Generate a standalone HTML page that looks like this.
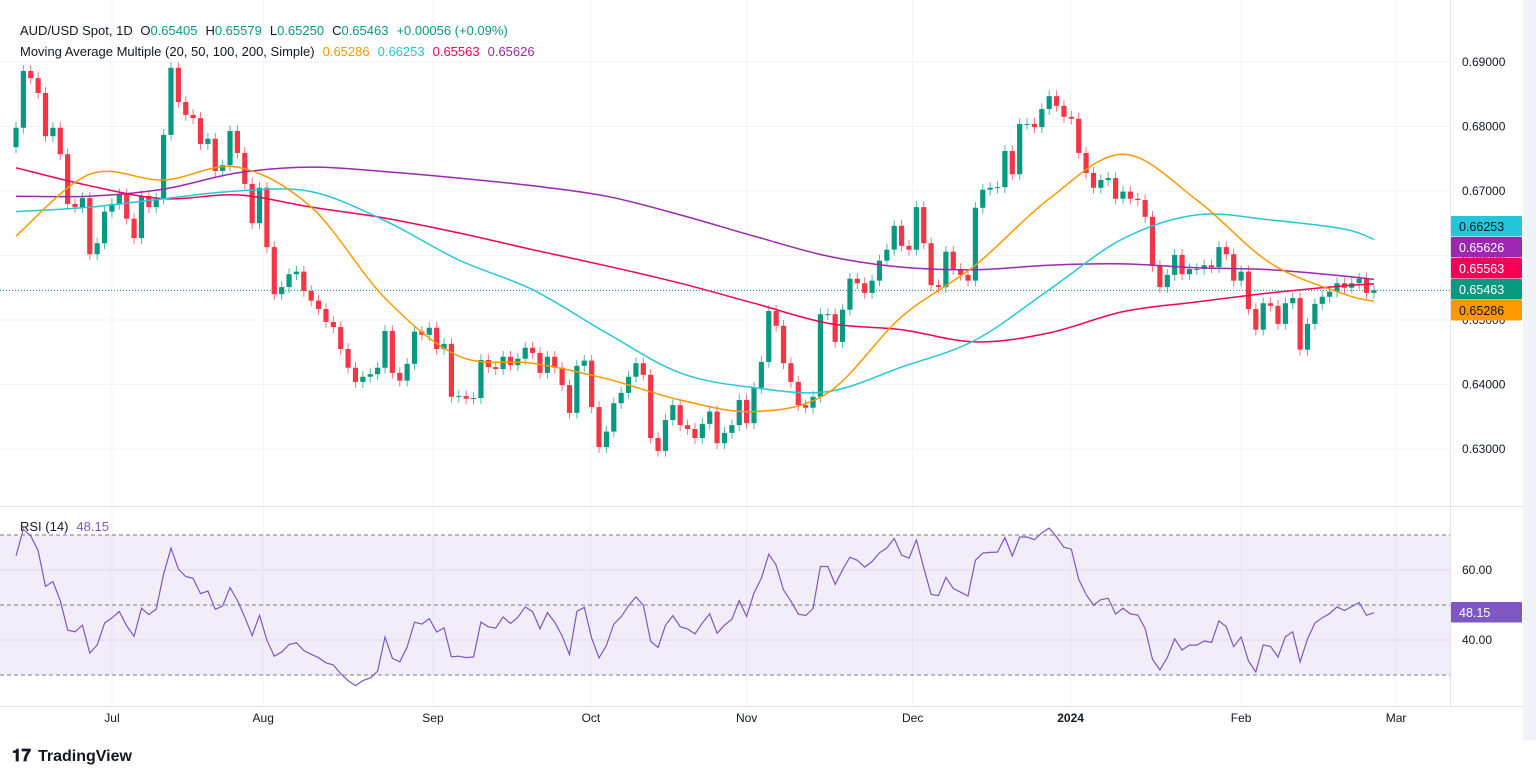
<!DOCTYPE html>
<html><head><meta charset="utf-8">
<style>
html,body{margin:0;padding:0;background:#fff;}
svg{display:block;font-family:"Liberation Sans",sans-serif;}
</style></head>
<body>
<svg id="chart" width="1536" height="776" viewBox="0 0 1536 776" xmlns="http://www.w3.org/2000/svg">
<rect x="0" y="0" width="1536" height="776" fill="#ffffff"/>
<rect x="1523" y="0" width="13" height="740" fill="#f0f3fa"/>
<g id="grid"></g>
<rect x="0" y="535" width="1450" height="140" fill="#7e57c2" fill-opacity="0.1"/>
<g id="rsiLines"></g>
<g id="candles"></g>
<g id="mas"></g>
<g id="rsi"></g>
<line x1="0" y1="506.5" x2="1523" y2="506.5" stroke="#e0e3eb"/>
<line x1="1450.5" y1="0" x2="1450.5" y2="706" stroke="#e0e3eb"/>
<line x1="0" y1="706.5" x2="1523" y2="706.5" stroke="#e0e3eb"/>
<g id="yticks" font-size="12" fill="#131722"></g>
<g id="xticks" font-size="12" fill="#131722"></g>
<g id="tags" font-size="12.5"></g>
<text x="20" y="35" font-size="13" fill="#131722">AUD/USD Spot, 1D <tspan dx="4">O</tspan><tspan fill="#089981">0.65405</tspan><tspan dx="8">H</tspan><tspan fill="#089981">0.65579</tspan><tspan dx="8">L</tspan><tspan fill="#089981">0.65250</tspan><tspan dx="8">C</tspan><tspan fill="#089981">0.65463</tspan><tspan dx="8" fill="#089981">+0.00056 (+0.09%)</tspan></text>
<text x="20" y="56" font-size="13" fill="#131722">Moving Average Multiple (20, 50, 100, 200, Simple)<tspan dx="8" fill="#ff9800">0.65286</tspan><tspan dx="8" fill="#26c6da">0.66253</tspan><tspan dx="8" fill="#f50057">0.65563</tspan><tspan dx="8" fill="#9c27b0">0.65626</tspan></text>
<text x="20" y="531" font-size="13" fill="#131722">RSI (14)<tspan dx="8" fill="#7e57c2">48.15</tspan></text>
<g>
<text x="12" y="761" font-size="17" font-weight="bold" fill="#131722">𝟏𝟕</text>
<text x="38" y="761" font-size="16" font-weight="bold" fill="#131722">TradingView</text>
</g>
</svg>
<script>
const closes=[0.6798,0.6886,0.6875,0.6852,0.6785,0.6798,0.6757,0.6680,0.6675,0.6689,0.6602,0.6619,0.6668,0.6680,0.6695,0.6657,0.6627,0.6692,0.6675,0.6688,
0.6787,0.6891,0.6838,0.6818,0.6813,0.6773,0.6781,0.6731,0.6740,0.6793,0.6759,0.6711,0.6650,0.6705,0.6613,
0.6540,0.6551,0.6571,0.6575,0.6545,0.6530,0.6517,0.6497,0.6489,0.6455,0.6426,0.6404,0.6412,0.6416,0.6426,0.6483,0.6418,0.6406,0.6432,0.6482,0.6477,0.6488,0.6455,0.6463,0.6381,0.6382,0.6378,0.6379,0.6438,0.6427,0.6424,0.6443,
0.6430,0.6440,0.6457,0.6449,0.6418,0.6443,0.6426,0.6399,0.6356,0.6429,0.6437,0.6365,0.6303,0.6327,0.6371,0.6387,0.6412,0.6433,0.6415,0.6317,0.6297,0.6345,0.6368,0.6337,0.6331,0.6317,0.6339,0.6358,0.6309,0.6325,0.6337,0.6376,0.6340,
0.6395,0.6435,0.6514,0.6491,0.6433,0.6404,0.6368,0.6364,0.6381,0.6509,0.6509,0.6466,0.6516,0.6564,0.6557,0.6542,0.6561,0.6592,0.6609,0.6646,0.6615,0.6609,0.6675,0.6619,0.6554,0.6551,0.6606,0.6579,0.6570,0.6561,
0.6674,0.6702,0.6705,0.6706,0.6762,0.6726,0.6804,0.6804,0.6799,0.6827,0.6847,0.6832,0.6815,0.6812,0.6759,0.6728,0.6705,0.6717,0.6720,0.6688,0.6699,0.6688,0.6686,0.6660,0.6584,0.6551,0.6570,0.6601,0.6571,0.6579,0.6579,0.6585,0.6582,
0.6613,0.6602,0.6561,0.6575,0.6517,0.6485,0.6526,0.6522,0.6494,0.6526,0.6534,0.6454,0.6494,0.6525,0.6536,0.6544,0.6557,0.6550,0.6557,0.6564,0.6542,0.6546];
const firstOpen=0.6768;
const maIdx=[0,10,20,30,40,50,60,70,80,90,100,110,120,130,140,150,160,170,180,184];
const ma20=[0.6630,0.6726,0.6717,0.6737,0.6675,0.6534,0.6444,0.6433,0.6409,0.6376,0.6358,0.6387,0.6505,0.6585,0.6688,0.6757,0.6686,0.6588,0.6540,0.6529];
const ma50=[0.6668,0.6675,0.6688,0.6700,0.6699,0.6654,0.6593,0.6547,0.6480,0.6418,0.6395,0.6389,0.6427,0.6469,0.6547,0.6626,0.6663,0.6655,0.6641,0.6625];
const ma100=[0.6736,0.6708,0.6688,0.6694,0.6675,0.6658,0.6635,0.6609,0.6584,0.6557,0.6526,0.6495,0.6485,0.6466,0.6480,0.6513,0.6528,0.6542,0.6553,0.6556];
const ma200=[0.6692,0.6692,0.6703,0.6728,0.6737,0.6730,0.6720,0.6708,0.6692,0.6663,0.6630,0.6599,0.6582,0.6578,0.6585,0.6587,0.6581,0.6578,0.6568,0.6563];
const priceTicks=[0.69,0.68,0.67,0.66,0.65,0.64,0.63];
const rsiTicks=[60,40];
const monthLabels=["Jul","Aug","Sep","Oct","Nov","Dec","2024","Feb","Mar"];
const monthBars=[13.0,33.5,56.5,77.9,99.0,121.5,142.9,166.0,187.0];
const rsiSeed=[0.0016,0.0009];

const NS="http://www.w3.org/2000/svg";
const X=i=>16+i*7.38;
const Y=p=>62+(0.69-p)*6450;
const RY=r=>605-(r-50)*3.5;
function mk(tag,attrs,parent){const e=document.createElementNS(NS,tag);for(const k in attrs)e.setAttribute(k,attrs[k]);parent.appendChild(e);return e;}
const grid=document.getElementById('grid');
priceTicks.forEach(p=>{const l=mk('line',{x1:0,x2:1450,y1:Y(p),y2:Y(p),stroke:'#f0f3fa'},grid);

});
rsiTicks.forEach(r=>{const l=mk('line',{x1:0,x2:1450,y1:RY(r),y2:RY(r),stroke:'#ebe6f5'},grid);

});
monthBars.forEach(b=>{const l=mk('line',{x1:X(b),x2:X(b),y1:0,y2:706,stroke:'#f0f3fa'},grid);

});
const rl=document.getElementById('rsiLines');
[70,50,30].forEach(r=>{const l=mk('line',{x1:0,x2:1450,y1:RY(r),y2:RY(r),stroke:'#787b86','stroke-dasharray':'4 3','stroke-width':1},rl);

});
const pl=mk('line',{x1:0,x2:1450,y1:Y(closes[closes.length-1]),y2:Y(closes[closes.length-1]),stroke:'#089981','stroke-dasharray':'1 2'},grid);


const cg=document.getElementById('candles');
closes.forEach((c,i)=>{
 const o=i===0?firstOpen:closes[i-1];
 const up=c>=o;const col=up?'#089981':'#f23645';
 const hi=Math.max(o,c)+0.0009, lo=Math.min(o,c)-0.0009;
 const x=X(i);
 const w=mk('line',{x1:x,x2:x,y1:Y(hi),y2:Y(lo),stroke:col,'stroke-width':1,'stroke-opacity':0.7},cg);
 
 
 const t=Y(Math.max(o,c)),b=Y(Math.min(o,c));
 const r=mk('rect',{x:x-2.6,y:t,width:5.2,height:Math.max(1,b-t),fill:col},cg);
 
 
});
function smoothPath(pts){
 let d='M'+pts[0][0].toFixed(1)+','+pts[0][1].toFixed(1);
 for(let i=0;i<pts.length-1;i++){
  const p0=pts[i-1]||pts[i],p1=pts[i],p2=pts[i+1],p3=pts[i+2]||p2;
  const c1=[p1[0]+(p2[0]-p0[0])/6,p1[1]+(p2[1]-p0[1])/6];
  const c2=[p2[0]-(p3[0]-p1[0])/6,p2[1]-(p3[1]-p1[1])/6];
  d+=' C'+c1[0].toFixed(1)+','+c1[1].toFixed(1)+' '+c2[0].toFixed(1)+','+c2[1].toFixed(1)+' '+p2[0].toFixed(1)+','+p2[1].toFixed(1);
 }
 return d;
}
const mg=document.getElementById('mas');
[[ma200,'#9c27b0','ma-200'],[ma100,'#f50057','ma-100'],[ma50,'#26c6da','ma-50'],[ma20,'#ff9800','ma-20']].forEach(([arr,col,nm])=>{
 const pts=arr.map((v,k)=>[X(maIdx[k]),Y(v)]);
 const p=mk('path',{d:smoothPath(pts),fill:'none',stroke:col,'stroke-width':1.5,'stroke-linejoin':'round'},mg);
 
 
});
let ag=rsiSeed[0],al=rsiSeed[1];const rsiVals=[100-100/(1+ag/al)];
for(let i=1;i<closes.length;i++){const d=closes[i]-closes[i-1];ag=(ag*13+Math.max(d,0))/14;al=(al*13+Math.max(-d,0))/14;rsiVals.push(100-100/(1+ag/al));}
const rp=mk('polyline',{points:rsiVals.map((r,i)=>X(i).toFixed(1)+','+RY(r).toFixed(1)).join(' '),fill:'none',stroke:'#7e57c2','stroke-width':1.2},document.getElementById('rsi'));


const yt=document.getElementById('yticks');
priceTicks.forEach(p=>{const t=mk('text',{x:1462,y:Y(p)+4},yt);t.textContent=p.toFixed(5);

});
rsiTicks.forEach(r=>{const t=mk('text',{x:1462,y:RY(r)+4},yt);t.textContent=r.toFixed(2);

});
const xt=document.getElementById('xticks');
monthLabels.forEach((m,k)=>{const t=mk('text',{x:X(monthBars[k]),y:722,'text-anchor':'middle','font-weight':m==='2024'?'bold':'normal'},xt);t.textContent=m;

});
const tg=document.getElementById('tags');
[[216,'#26c6da','#131722','0.66253'],[237,'#9c27b0','#fff','0.65626'],[258,'#f50057','#fff','0.65563'],[279,'#089981','#fff','0.65463'],[300,'#ff9800','#131722','0.65286'],[602,'#7e57c2','#fff','48.15']].forEach(([y,bg,fg,txt])=>{
 const r=mk('rect',{x:1451,y:y,width:71,height:20.5,fill:bg,rx:1},tg);
 
 
 const t=mk('text',{x:1459,y:y+15,fill:fg},tg);t.textContent=txt;
 
 
});
</script>
</body></html>
